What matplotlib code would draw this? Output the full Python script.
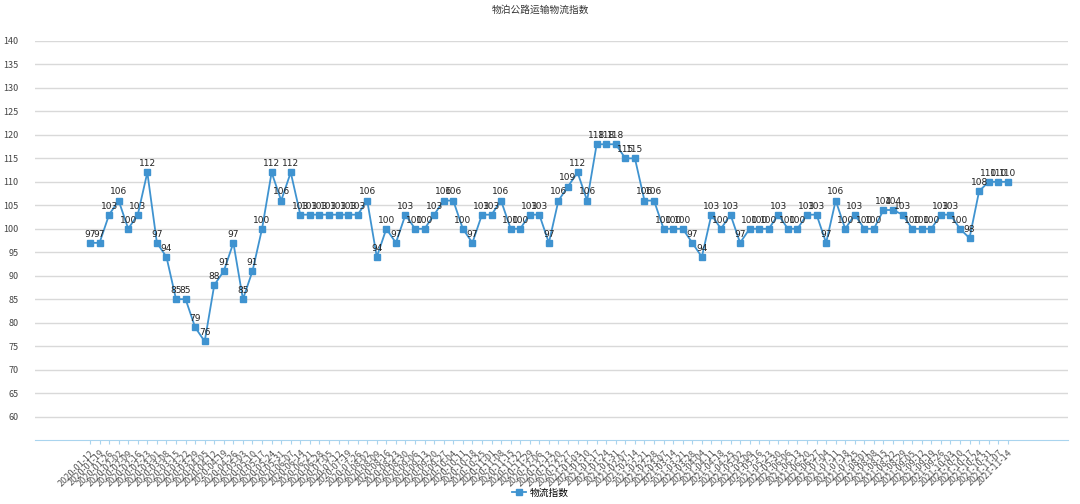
import pandas as pd
import matplotlib.pyplot as plt
import numpy as np

plt.rcParams['font.family'] = ['Noto Sans CJK SC', 'DejaVu Sans']

# weekly dates, 2020-01-12 .. 2021-11-14
dates = pd.date_range("2020-01-12", "2021-11-14", freq="7D").strftime("%Y-%m-%d").tolist()

index_values = [97, 97, 103, 106, 100, 103, 112, 97, 94, 85,
                85, 79, 76, 88, 91, 97, 85, 91, 100, 112,
                106, 112, 103, 103, 103, 103, 103, 103, 103, 106,
                94, 100, 97, 103, 100, 100, 103, 106, 106, 100,
                97, 103, 103, 106, 100, 100, 103, 103, 97, 106,
                109, 112, 106, 118, 118, 118, 115, 115, 106, 106,
                100, 100, 100, 97, 94, 103, 100, 103, 97, 100,
                100, 100, 103, 100, 100, 103, 103, 97, 106, 100,
                103, 100, 100, 104, 104, 103, 100, 100, 100, 103,
                103, 100, 98, 108, 110, 110, 110]

yticks = list(range(60, 141, 5))

fig = plt.figure(figsize=(10.8, 5.04), dpi=100)
ax = fig.add_axes([35 / 1080, 1 - 440 / 504, 1033 / 1080, 399 / 504])

x = np.arange(len(dates))
line_color = '#3f93d0'
ax.plot(x, index_values, color=line_color, linewidth=1.3, marker='s',
        markersize=4, label='物流指数')

for xi, v in zip(x, index_values):
    ax.annotate(str(v), (xi, v), xytext=(0, 3), textcoords='offset points',
                ha='center', va='bottom', fontsize=6.5, color='#222222',
                family='DejaVu Sans')

ax.set_xlim(-5.75, len(dates) - 1 + 6.3)
ax.set_ylim(55, 140)
ax.set_yticks(yticks)
ax.set_yticklabels([str(t) for t in yticks], fontsize=6.5, color='#444444')
ax.grid(axis='y', color='#d9d9d9', linewidth=1)
ax.set_axisbelow(True)

ax.set_xticks(x)
ax.set_xticklabels(dates, rotation=45, ha='right', rotation_mode='anchor',
                   fontsize=6.5, color='#555555')

for s in ['top', 'right', 'left']:
    ax.spines[s].set_visible(False)
ax.spines['bottom'].set_color('#a9d4ee')
ax.tick_params(axis='y', length=0, pad=12)
ax.tick_params(axis='x', length=3, color='#a9d4ee', pad=3)

fig.suptitle('物泊公路运输物流指数', fontsize=7, y=0.99, color='#333333')
fig.legend(loc='lower center', bbox_to_anchor=(0.5, -0.005), frameon=False,
           fontsize=7, handlelength=1.5, handletextpad=0.3)

fig.savefig('out.png', dpi=100)
